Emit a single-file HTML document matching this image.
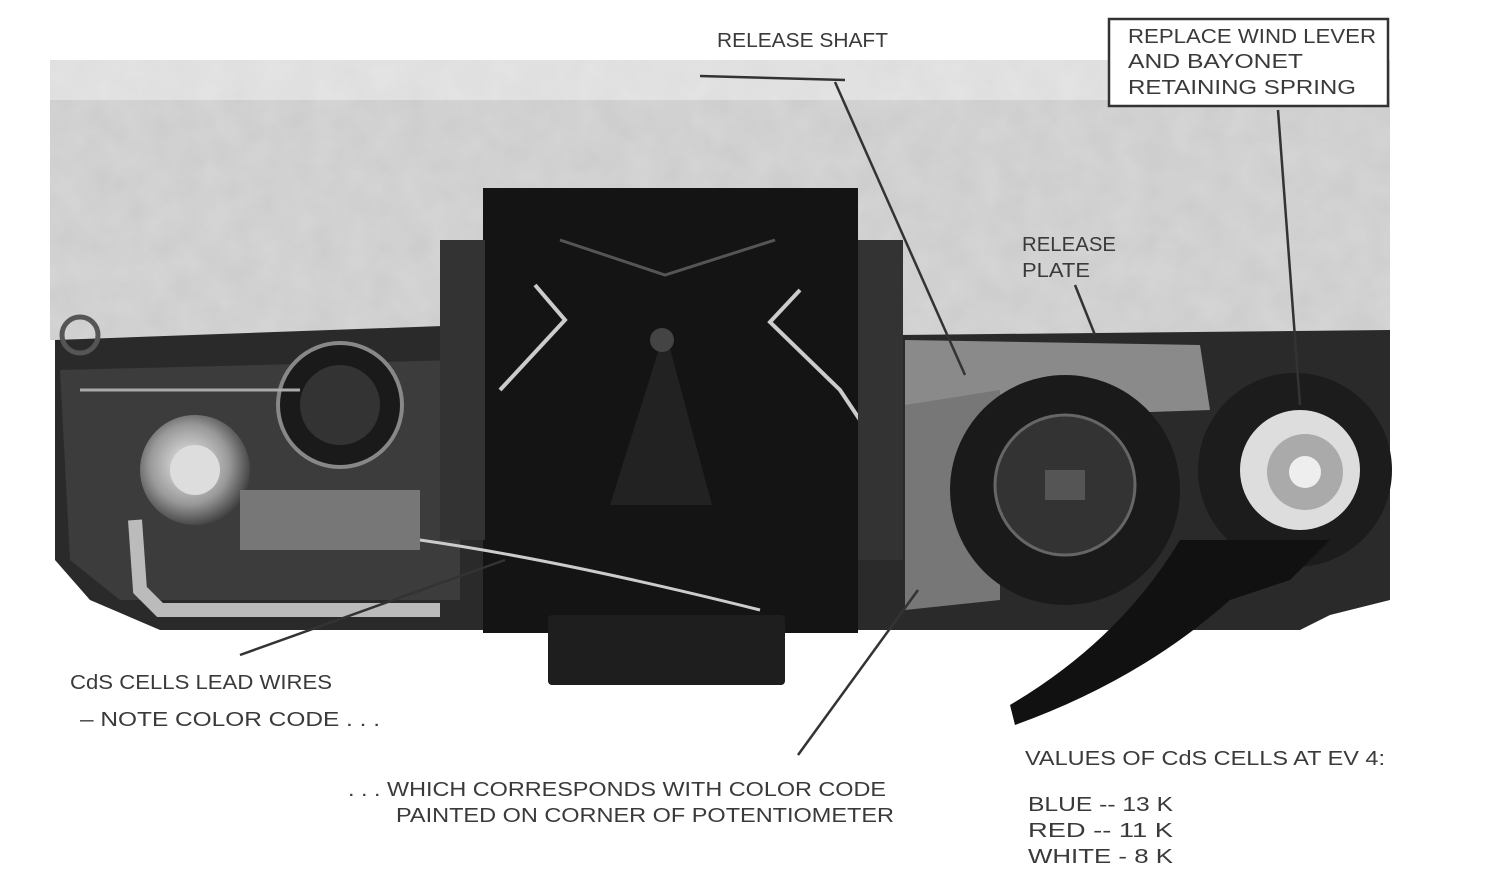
<!DOCTYPE html>
<html><head><meta charset="utf-8">
<style>
html,body{margin:0;padding:0;background:#fff;}
svg{display:block;}
text{font-family:"Liberation Sans",sans-serif;fill:#3a3a3a;font-size:20px;}
</style></head>
<body>
<svg width="1512" height="890" viewBox="0 0 1512 890" xmlns="http://www.w3.org/2000/svg">
<defs>
<filter id="noise" x="0" y="0" width="100%" height="100%">
<feTurbulence type="fractalNoise" baseFrequency="0.035" numOctaves="3" seed="4"/>
<feColorMatrix type="matrix" values="0 0 0 0 0.6  0 0 0 0 0.6  0 0 0 0 0.6  0 0 0 -1.4 1.05"/>
</filter>
<radialGradient id="knob" cx="0.45" cy="0.45" r="0.6">
<stop offset="0" stop-color="#eee"/><stop offset="0.6" stop-color="#999"/><stop offset="1" stop-color="#333"/>
</radialGradient>
</defs>
<rect width="1512" height="890" fill="#fff"/>
<!-- grey textured background band -->
<rect x="50" y="60" width="1340" height="280" fill="#d4d4d4"/>
<rect x="50" y="60" width="1340" height="280" filter="url(#noise)"/>
<rect x="50" y="60" width="1340" height="40" fill="#fff" opacity="0.35"/>
<!-- camera body -->
<path d="M55 340 L470 325 L470 350 L900 335 L1390 330 L1390 600 L1330 615 L1300 630 L160 630 L90 600 L55 560 Z" fill="#2a2a2a"/>
<path d="M60 370 L460 360 L460 600 L120 600 L70 560 Z" fill="#3c3c3c"/>
<path d="M905 340 L1200 345 L1210 410 L905 420 Z" fill="#8a8a8a"/>
<path d="M905 405 L1000 390 L1000 600 L905 610 Z" fill="#777"/>
<!-- central prism block -->
<rect x="483" y="188" width="375" height="445" fill="#141414"/>
<path d="M560 240 L665 275 L775 240" stroke="#555" stroke-width="3" fill="none"/>
<path d="M610 505 L712 505 L665 330 Z" fill="#222"/>
<circle cx="662" cy="340" r="12" fill="#444"/>
<path d="M535 285 L565 320 L500 390" stroke="#ccc" stroke-width="4" fill="none"/>
<path d="M800 290 L770 322 L840 390 L880 450" stroke="#ccc" stroke-width="4" fill="none"/>
<rect x="440" y="240" width="45" height="300" fill="#333"/>
<rect x="858" y="240" width="45" height="320" fill="#333"/>
<!-- bottom lug -->
<rect x="548" y="615" width="237" height="70" rx="4" fill="#1e1e1e"/>
<!-- left parts -->
<circle cx="340" cy="405" r="62" fill="#1a1a1a" stroke="#888" stroke-width="4"/>
<circle cx="340" cy="405" r="40" fill="#333"/>
<circle cx="195" cy="470" r="55" fill="url(#knob)"/>
<circle cx="195" cy="470" r="25" fill="#ddd"/>
<path d="M135 520 L140 590 L160 610 L440 610" stroke="#bbb" stroke-width="14" fill="none"/>
<rect x="240" y="490" width="180" height="60" fill="#777"/>
<circle cx="80" cy="335" r="18" fill="none" stroke="#555" stroke-width="5"/>
<path d="M80 390 L300 390" stroke="#aaa" stroke-width="3"/>
<!-- wire -->
<path d="M420 540 Q560 560 760 610" stroke="#ccc" stroke-width="3" fill="none"/>
<!-- right wheel -->
<circle cx="1065" cy="490" r="115" fill="#1a1a1a"/>
<circle cx="1065" cy="485" r="70" fill="#333" stroke="#666" stroke-width="3"/>
<rect x="1045" y="470" width="40" height="30" fill="#555"/>
<!-- far right dial -->
<circle cx="1295" cy="470" r="97" fill="#1c1c1c"/>
<circle cx="1300" cy="470" r="60" fill="#ddd"/>
<circle cx="1305" cy="472" r="38" fill="#aaa"/>
<circle cx="1305" cy="472" r="16" fill="#eee"/>
<!-- wind lever -->
<path d="M1180 540 Q1120 640 1010 705 L1015 725 Q1140 680 1230 600 L1290 580 L1330 540 Z" fill="#111"/>
<!-- leader lines -->
<g stroke="#333" stroke-width="2.5" fill="none">
<path d="M700 76 L845 80"/>
<path d="M835 82 L965 375"/>
<path d="M1278 110 L1300 405"/>
<path d="M1075 285 L1095 335"/>
<path d="M240 655 L505 560"/>
<path d="M798 755 L918 590"/>
</g>
<!-- boxed label -->
<rect x="1109" y="19" width="279" height="87" fill="#fff" stroke="#333" stroke-width="2.5"/>
<text x="1128" y="43" textLength="248" lengthAdjust="spacingAndGlyphs">REPLACE WIND LEVER</text>
<text x="1128" y="68" textLength="175" lengthAdjust="spacingAndGlyphs">AND BAYONET</text>
<text x="1128" y="94" textLength="228" lengthAdjust="spacingAndGlyphs">RETAINING SPRING</text>
<text x="717" y="47" textLength="171" lengthAdjust="spacingAndGlyphs">RELEASE SHAFT</text>
<text x="1022" y="251" textLength="94" lengthAdjust="spacingAndGlyphs">RELEASE</text>
<text x="1022" y="277" textLength="68" lengthAdjust="spacingAndGlyphs">PLATE</text>
<text x="70" y="689" textLength="262" lengthAdjust="spacingAndGlyphs">CdS CELLS LEAD WIRES</text>
<text x="80" y="726" textLength="300" lengthAdjust="spacingAndGlyphs">– NOTE COLOR CODE . . .</text>
<text x="348" y="796" textLength="538" lengthAdjust="spacingAndGlyphs">. . . WHICH CORRESPONDS WITH COLOR CODE</text>
<text x="396" y="822" textLength="498" lengthAdjust="spacingAndGlyphs">PAINTED ON CORNER OF POTENTIOMETER</text>
<text x="1025" y="765" textLength="360" lengthAdjust="spacingAndGlyphs">VALUES OF CdS CELLS AT EV 4:</text>
<text x="1028" y="811" textLength="145" lengthAdjust="spacingAndGlyphs">BLUE -- 13 K</text>
<text x="1028" y="837" textLength="145" lengthAdjust="spacingAndGlyphs">RED   -- 11 K</text>
<text x="1028" y="863" textLength="145" lengthAdjust="spacingAndGlyphs">WHITE -  8 K</text>
</svg>
</body></html>
